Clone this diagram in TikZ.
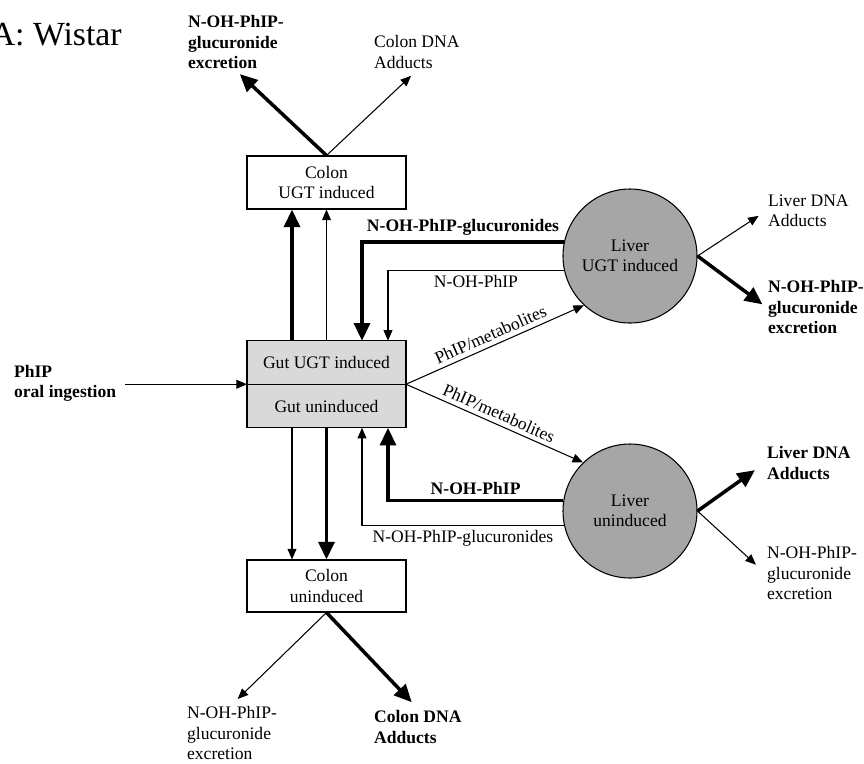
\documentclass[tikz,border=0pt]{standalone}
\usepackage{fontspec}
\setmainfont{Liberation Serif}
\usetikzlibrary{arrows.meta, positioning}
\definecolor{gutgrey}{HTML}{D9D9D9}
\definecolor{livergrey}{HTML}{A6A6A6}
\newcommand{\txt}{\fontsize{10}{11.5}\selectfont}
\tikzset{
  organ/.style={draw, line width=0.6pt, fill=white, align=center, font=\txt, minimum width=3.18cm, minimum height=1.06cm, inner sep=2pt},
  gutbox/.style={organ, fill=gutgrey, minimum height=0.87cm, outer sep=0pt},
  liver/.style={circle, draw, line width=0.6pt, fill=livergrey, align=center, font=\txt, minimum size=2.68cm, inner sep=0pt},
  fate/.style={align=left, anchor=west, inner sep=1pt, font=\txt},
  boldfate/.style={fate, font=\txt\bfseries},
  flow/.style={-{Triangle[length=6pt, width=5pt]}, line width=0.6pt},
  mainflow/.style={-{Triangle[length=10pt, width=9pt]}, line width=2pt},
  lbl/.style={font=\txt, inner sep=2.5pt},
}

\begin{document}
\begin{tikzpicture}
  \useasboundingbox (0,0) rectangle (17.28,-15.26);
  \node[anchor=base east, font=\fontsize{19.2}{23}\selectfont, inner sep=0pt] (title) at (2.44,-0.9) {A: Wistar};
  % organs
  \node[organ] (colonI) at (6.53,-3.65) {Colon\\UGT induced};
  \node[gutbox] (gutI) at (6.53,-7.25) {Gut UGT induced};
  \node[gutbox, below=0pt of gutI] (gutU) {Gut uninduced};
  \node[organ, minimum height=1.04cm] (colonU) at (6.53,-11.72) {Colon\\uninduced};
  \node[liver] (liverI) at (12.6,-5.12) {Liver\\UGT induced};
  \node[liver] (liverU) at (12.6,-10.22) {Liver\\uninduced};
  % end points
  \node[boldfate] (ing) at (0.24,-7.66) {PhIP\\oral ingestion};
  \node[boldfate] (excCI) at (3.72,-0.84) {N-OH-PhIP-\\glucuronide\\excretion};
  \node[fate] (dnaCI) at (7.44,-1.04) {Colon DNA\\Adducts};
  \node[fate] (dnaLI) at (15.32,-4.22) {Liver DNA\\Adducts};
  \node[boldfate] (excLI) at (15.32,-6.14) {N-OH-PhIP-\\glucuronide\\excretion};
  \node[boldfate] (dnaLU) at (15.30,-9.26) {Liver DNA\\Adducts};
  \node[fate] (excLU) at (15.30,-11.46) {N-OH-PhIP-\\glucuronide\\excretion};
  \node[fate] (excCU) at (3.70,-14.66) {N-OH-PhIP-\\glucuronide\\excretion};
  \node[boldfate] (dnaCU) at (7.44,-14.54) {Colon DNA\\Adducts};

  % intake
  \draw[flow, shorten <=4pt] (gutI.south west -| ing.east) -- (gutI.south west);
  % gut <-> colon
  \draw[mainflow] ([xshift=-0.69cm]gutI.north) -- ([xshift=-0.69cm]colonI.south);
  \draw[flow] (gutI.north) -- (colonI.south);
  \draw[flow] ([xshift=-0.69cm]gutU.south) -- ([xshift=-0.69cm]colonU.north);
  \draw[mainflow] (gutU.south) -- (colonU.north);
  % gut -> liver
  \draw[flow] (gutI.south east) -- node[lbl, above, sloped]{PhIP/metabolites} (liverI.227);
  \draw[flow] (gutI.south east) -- node[lbl, above, sloped]{PhIP/metabolites} (liverU.134);
  % liver -> gut
  \draw[mainflow] (liverI.168) -| node[lbl, above, pos=0.25, font=\txt\bfseries]{N-OH-PhIP-glucuronides} ([xshift=0.71cm]gutI.north);
  \draw[flow] (liverI.192) -| node[lbl, below, pos=0.25]{N-OH-PhIP} ([xshift=1.23cm]gutI.north);
  \draw[mainflow] (liverU.171) -| node[lbl, above, pos=0.25, font=\txt\bfseries]{N-OH-PhIP} ([xshift=1.23cm]gutU.south);
  \draw[flow] (liverU.192) -| node[lbl, below, pos=0.25]{N-OH-PhIP-glucuronides} ([xshift=0.71cm]gutU.south);
  % fates
  \draw[mainflow, shorten >=3pt] (colonI.north) -- (excCI.south);
  \draw[flow, shorten >=4.5pt] (colonI.north) -- (dnaCI.south);
  \draw[flow, shorten >=5pt] (liverI.east) -- (dnaLI.west);
  \draw[mainflow, shorten >=2.5pt] (liverI.east) -- (excLI.west);
  \draw[mainflow, shorten >=7pt] (liverU.east) -- (dnaLU.west);
  \draw[flow, shorten >=7pt] (liverU.east) -- (excLU.west);
  \draw[flow, shorten >=4.5pt] (colonU.south) -- (excCU.north);
  \draw[mainflow, shorten >=5pt] (colonU.south) -- (dnaCU.north);
\end{tikzpicture}
\end{document}
